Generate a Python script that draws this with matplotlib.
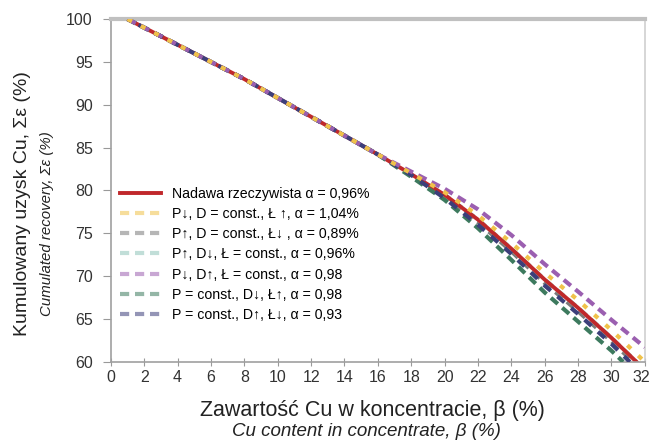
import numpy as np
import matplotlib
matplotlib.use("Agg")
import matplotlib.pyplot as plt
import matplotlib.transforms as mtransforms

plt.rcParams['font.family'] = ['Liberation Sans', 'DejaVu Sans']

# beta (%) - Cu content in concentrate, cumulated recovery (%) per variant
beta = [1, 2, 4, 6, 8, 10, 12, 14, 16, 18, 20, 22, 24, 26, 28, 30, 31.5]
real = [100, 99.0, 97.0, 95.0, 93.0, 90.8, 88.6, 86.4, 84.2, 81.9, 79.5, 76.6, 73.2, 69.6, 66.3, 62.8, 60.0]

beta_yellow = [1, 2, 4, 6, 8, 10, 12, 14, 16, 18, 20, 22, 24, 26, 28, 30, 32]
yellow = [100, 99.0, 97.0, 95.0, 93.0, 90.8, 88.6, 86.4, 84.2, 82.0, 79.8, 77.1, 73.9, 70.4, 67.2, 63.7, 60.0]

beta_gray = [1, 2, 4, 6, 8, 10, 12, 14, 16, 18, 20, 22, 24, 26, 28, 30, 31.3]
gray = [100, 99.0, 97.0, 95.0, 93.0, 90.8, 88.6, 86.4, 84.2, 81.8, 79.3, 76.3, 72.9, 69.2, 65.9, 62.4, 60.0]

beta_lteal = [1, 2, 4, 6, 8, 10, 12, 14, 16, 18, 20, 22, 24, 26, 28, 30, 31.5]
lteal = [100, 99.0, 97.0, 95.0, 93.0, 90.8, 88.6, 86.4, 84.2, 81.9, 79.5, 76.6, 73.2, 69.6, 66.3, 62.8, 60.0]

beta_violet = [1, 2, 4, 6, 8, 10, 12, 14, 16, 18, 20, 22, 24, 26, 28, 30, 32]
violet = [100, 99.0, 97.0, 95.0, 93.0, 90.8, 88.6, 86.4, 84.2, 82.2, 80.2, 77.8, 74.8, 71.4, 68.2, 64.9, 61.7]

beta_green = [1, 2, 4, 6, 8, 10, 12, 14, 16, 18, 20, 22, 24, 26, 28, 30, 30.7]
green = [100, 99.0, 97.0, 95.0, 93.0, 90.8, 88.6, 86.4, 84.2, 81.6, 78.9, 75.6, 71.9, 68.1, 64.7, 61.3, 60.0]

beta_navy = [1, 2, 4, 6, 8, 10, 12, 14, 16, 18, 20, 22, 24, 26, 28, 30, 31.1]
navy = [100, 99.0, 97.0, 95.0, 93.0, 90.8, 88.6, 86.4, 84.2, 81.8, 79.1, 76.0, 72.6, 68.9, 65.6, 62.1, 60.0]

labels = [
    'Nadawa rzeczywista α = 0,96%',
    'P↓, D = const., Ł ↑, α = 1,04%',
    'P↑, D = const., Ł↓ , α = 0,89%',
    'P↑, D↓, Ł = const., α = 0,96%',
    'P↓, D↑, Ł = const., α = 0,98',
    'P = const., D↓, Ł↑, α = 0,98',
    'P = const., D↑, Ł↓, α = 0,93',
]

x_ticks = list(range(0, 33, 2))
y_ticks = list(range(60, 101, 5))

fig = plt.figure(figsize=(6.52, 4.44), dpi=100)
ax = fig.add_axes([0.170, 0.185, 0.819, 0.772])

ax.plot(beta, real, color='#c0282b', lw=2.8, label=labels[0], zorder=2)
ax.plot(beta_gray, gray, color='#7a7a7a', lw=3, dashes=(2.2, 1.4), label=labels[2], zorder=1)
ax.plot(beta_lteal, lteal, color='#8fc4b8', lw=3, dashes=(2.2, 1.4), label=labels[3], zorder=1)
ax.plot(beta_green, green, color='#3d7a5e', lw=3, dashes=(2.2, 1.4), label=labels[5], zorder=3)
ax.plot(beta_navy, navy, color='#3c3f7a', lw=3, dashes=(0.9, 2.1, 1.3, 0.0), label=labels[6], zorder=4)
ax.plot(beta_violet, violet, color='#9b5fb0', lw=3, dashes=(2.2, 1.4), label=labels[4], zorder=4)
ax.plot(beta_yellow, yellow, color='#f0c24a', lw=3, dashes=(1.2, 2.4), label=labels[1], zorder=5)

ax.set_xlim(0, 32)
ax.set_ylim(60, 100)
ax.set_xticks(x_ticks)
ax.set_yticks(y_ticks)
ax.tick_params(axis='both', labelsize=11.5, colors='#999999', labelcolor='#333333')
ax.tick_params(axis='x', direction='inout', length=6, pad=3)
ax.tick_params(axis='y', direction='out', length=6, pad=7)

# nudge the last x label so it stays inside the picture
last = ax.get_xticklabels()[-1]
last.set_transform(last.get_transform() + mtransforms.ScaledTranslation(-4 / 100, 0, fig.dpi_scale_trans))

for side in ['left', 'bottom', 'right']:
    ax.spines[side].set_color('#a0a0a0')
    ax.spines[side].set_linewidth(1.2)
ax.spines['right'].set_color('#d0d0d0')
ax.spines['top'].set_color('#c0c0c0')
ax.spines['top'].set_linewidth(3)

# legend in original order
handles, labs = ax.get_legend_handles_labels()
order = [labs.index(l) for l in labels]
leg = ax.legend([handles[i] for i in order], [labs[i] for i in order],
                loc='upper left', bbox_to_anchor=(0.012, 0.518), frameon=False,
                fontsize=10.2, handlelength=2.9, handletextpad=0.75,
                labelspacing=0.43, borderpad=0.2, borderaxespad=0.0)
for line in leg.get_lines()[1:]:
    line.set_alpha(0.55)
    line.set_dashes((2.2, 1.4))

fig.text(0.571, 0.075, 'Zawartość Cu w koncentracie, β (%)', ha='center', va='center',
         fontsize=15.5, color='#222222')
fig.text(0.562, 0.029, 'Cu content in concentrate, β (%)', ha='center', va='center',
         fontsize=13.5, style='italic', color='#222222')
fig.text(0.034, 0.541, 'Kumulowany uzysk Cu, Σε (%)', ha='center', va='center',
         rotation=90, fontsize=14, color='#222222')
fig.text(0.072, 0.496, 'Cumulated recovery, Σε (%)', ha='center', va='center',
         rotation=90, fontsize=10.8, style='italic', color='#222222')

fig.savefig('out.png', dpi=100)
